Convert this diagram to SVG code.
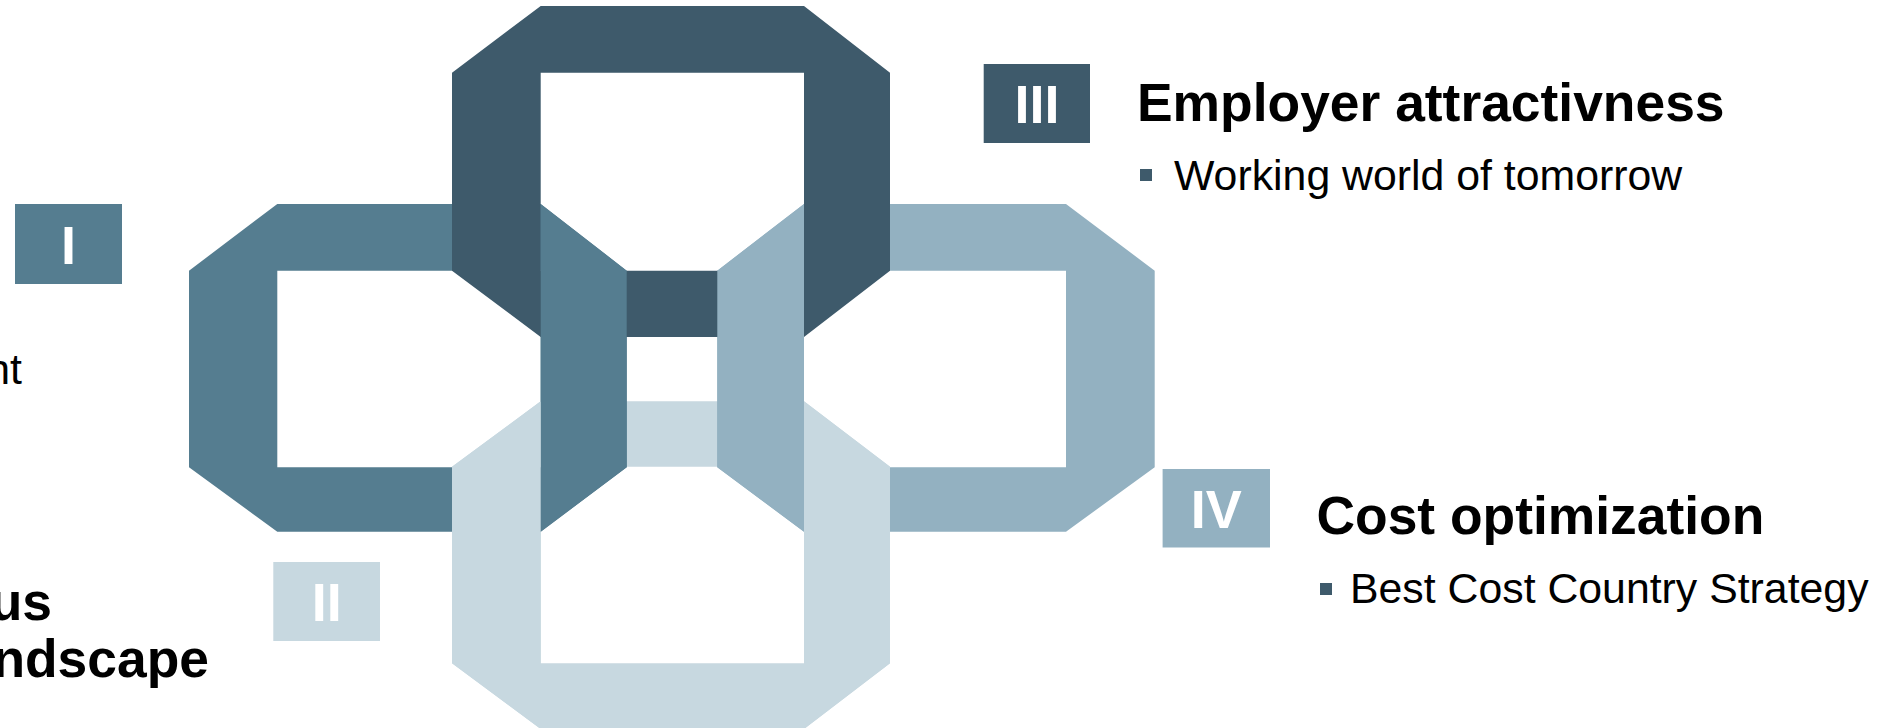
<svg xmlns="http://www.w3.org/2000/svg" width="1895" height="728" viewBox="0 0 1895 728">
  <style>
    .c1 { fill: #557D90; }
    .c2 { fill: #C7D8E0; }
    .c3 { fill: #3E5A6B; }
    .c4 { fill: #93B1C1; }
    .num { font-family: "Liberation Sans", Arial, sans-serif; font-weight: bold; font-size: 54px; fill: #FFFFFF; text-anchor: middle; }
    .head { font-family: "Liberation Sans", Arial, sans-serif; font-weight: bold; font-size: 53.4px; fill: #000000; }
    .bul { font-family: "Liberation Sans", Arial, sans-serif; font-size: 42.8px; fill: #000000; }
    .ring { fill-rule: evenodd; }
  </style>
  <rect x="0" y="0" width="1895" height="728" fill="#FFFFFF"/>

  <!-- base rings -->
  <g id="ring-II">
    <path class="c2 ring" d="M540.7,401.3 H804 L890,466.7 V663.3 L804,729 H540.7 L452,663.3 V466.7 Z M540.7,466.7 H804 V663.3 H540.7 Z"/>
  </g>
  <g id="ring-I">
    <path class="c1 ring" d="M277.3,204 H540.7 L626.7,270.7 V467.3 L540.7,531.7 H277.3 L189,467.3 V270.7 Z M277.3,270.7 H540.7 V467.3 H277.3 Z"/>
  </g>
  <g id="ring-IV">
    <path class="c4 ring" d="M804,204 H1066 L1154.7,270.7 V467.3 L1066,531.7 H804 L717.3,467.3 V270.7 Z M804,270.7 H1066 V467.3 H804 Z"/>
  </g>
  <g id="ring-III">
    <path class="c3 ring" d="M540.7,6 H804 L890,72.7 V270.7 L804,337 H540.7 L452,270.7 V72.7 Z M540.7,72.7 H804 V270.7 H540.7 Z"/>
  </g>

  <!-- interlocking overlaps -->
  <g id="ring-I-front">
    <polygon class="c1" points="540.7,204 626.7,270.7 626.7,467.3 540.7,531.7"/>
  </g>
  <g id="ring-IV-front">
    <polygon class="c4" points="804,204 804,531.7 717.3,467.3 717.3,270.7"/>
  </g>
  <g id="ring-II-front">
    <polygon class="c2" points="540.7,401.3 540.7,729 452,663.3 452,466.7"/>
    <polygon class="c2" points="804,401.3 890,466.7 890,663.3 804,729"/>
  </g>

  <!-- number badges -->
  <g id="badge-I">
    <rect class="c1" x="15" y="204" width="107" height="80"/>
    <text class="num" x="68.5" y="264">I</text>
  </g>
  <g id="badge-II">
    <rect class="c2" x="273.3" y="562" width="106.7" height="79"/>
    <text class="num" x="326.7" y="621">II</text>
  </g>
  <g id="badge-III">
    <rect class="c3" x="983.7" y="64" width="106.3" height="79"/>
    <text class="num" x="1036.9" y="123">III</text>
  </g>
  <g id="badge-IV">
    <rect class="c4" x="1162.6" y="469" width="107.4" height="78.5"/>
    <text class="num" x="1216.3" y="527.5">IV</text>
  </g>

  <!-- text blocks -->
  <g id="text-III">
    <text class="head" x="1137" y="121">Employer attractivness</text>
    <rect class="c3" x="1140" y="169" width="12" height="12"/>
    <text class="bul" x="1174" y="190">Working world of tomorrow</text>
  </g>
  <g id="text-IV">
    <text class="head" x="1316.5" y="534">Cost optimization</text>
    <rect class="c3" x="1320" y="583" width="12" height="12"/>
    <text class="bul" x="1350" y="603">Best Cost Country Strategy</text>
  </g>
  <g id="text-I">
    <text class="bul" x="22" y="384" text-anchor="end">nt</text>
  </g>
  <g id="text-II">
    <text class="head" x="52" y="620" text-anchor="end">us</text>
    <text class="head" x="209" y="677" text-anchor="end">ndscape</text>
  </g>
</svg>
